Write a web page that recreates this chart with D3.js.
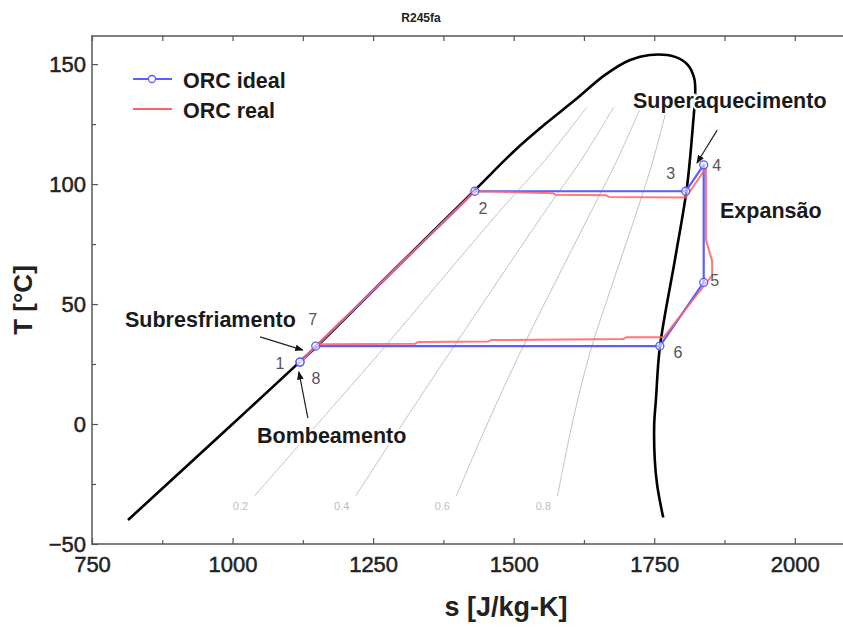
<!DOCTYPE html>
<html>
<head>
<meta charset="utf-8">
<script src="https://cdn.jsdelivr.net/npm/d3@7/dist/d3.min.js"></script>
<style>
  html, body { margin: 0; padding: 0; background: #fff; }
  svg { display: block; font-family: "Liberation Sans", Arial, sans-serif; }
</style>
</head>
<body>
<svg id="chart" width="843" height="627"></svg>
<script>
// ---------- DATA ----------
const title = "R245fa";
const xTicks = [750, 1000, 1250, 1500, 1750, 2000];
const xMinorTicks = [875, 1125, 1375, 1625, 1875];
const yTicks = [-50, 0, 50, 100, 150];
const yMinorTicks = [-25, 25, 75, 125];

// saturation dome (s [J/kg-K], T [°C])
const satLiquidS = [814, 1000, 1120, 1148, 1299, 1431, 1502, 1556, 1609, 1662, 1707, 1742];
const satLiquidT = [-40, 0, 26, 32, 67, 97.5, 114, 125, 135, 145.4, 151.7, 153.8];
const satVaporS = [1787, 1810, 1821, 1823, 1819, 1808, 1788, 1760, 1753, 1750, 1751, 1755, 1760, 1766];
const satVaporT = [153, 149.6, 144.2, 139.2, 125, 98.3, 70, 32, 10, 0, -15, -25, -32, -39];

// constant-quality lines
const qualityNames = ["0.2", "0.4", "0.6", "0.8"];
const qualityT = [-30, 0, 30, 60, 90, 110, 132];
const q02S = [1039, 1151, 1263, 1371, 1480, 1556, 1630];
const q04S = [1219, 1302, 1387, 1473, 1560, 1620, 1678];
const q06S = [1398, 1453, 1512, 1576, 1641, 1684, 1726];
const q08S = [1578, 1604, 1636, 1678, 1721, 1748, 1773];

// ORC ideal cycle: states 1..8 (8 coincides with 1)
const idealLabels = ["1", "2", "3", "4", "5", "6", "7", "8"];
const idealS = [1120, 1431, 1806, 1838, 1838, 1760, 1148, 1120];
const idealT = [25.8, 97, 97, 108, 59, 32.5, 32.5, 25.8];

// ORC real cycle
const realS = [1120, 1148, 1431, 1570, 1575, 1665, 1670, 1806, 1842, 1842, 1853, 1853, 1767, 1701, 1695, 1460, 1455, 1330, 1325, 1155, 1148, 1120];
const realT = [25.8, 32.5, 97, 96.2, 95.5, 95.3, 94.6, 94.4, 106.7, 76.7, 68, 62, 36.2, 36.2, 35.4, 35.0, 34.4, 34.2, 33.5, 33.2, 32.5, 25.8];

const seriesNames = ["ORC ideal", "ORC real"];

// ---------- STYLE / LAYOUT ----------
const colIdeal = "#5c5cff";
const colReal = "#ff6262";
const svg = d3.select("#chart");
const L = 92, R = 851, T0 = 36, B = 544;
const x = d3.scaleLinear().domain([750, 2100]).range([L, R]);
const y = d3.scaleLinear().domain([-50, 161.7]).range([B, T0]);

const zip = (a, b) => a.map((v, i) => [v, b[i]]);
const line = d3.line().x(d => x(d[0])).y(d => y(d[1]));
const smooth = d3.line().x(d => x(d[0])).y(d => y(d[1])).curve(d3.curveCatmullRom.alpha(0.5));

// title
svg.append("text").attr("x", 421).attr("y", 22).attr("text-anchor", "middle")
  .attr("font-size", 12).attr("font-weight", "bold").attr("fill", "#222").text(title);

// quality lines
const qS = [q02S, q04S, q06S, q08S];
const qg = svg.append("g");
qS.forEach((s, i) => {
  qg.append("path").attr("d", smooth(zip(s, qualityT))).attr("fill", "none")
    .attr("stroke", "#c4c4c4").attr("stroke-width", 1);
  qg.append("text").attr("x", x(s[0]) - 14).attr("y", y(qualityT[0]) + 14)
    .attr("text-anchor", "middle").attr("font-size", 11).attr("fill", "#bdbdbd").text(qualityNames[i]);
});

// dome
const dome = zip(satLiquidS, satLiquidT).concat(zip(satVaporS, satVaporT));
svg.append("path").attr("d", smooth(dome)).attr("fill", "none")
  .attr("stroke", "#000").attr("stroke-width", 2.6).attr("stroke-linejoin", "round");

// ideal
const idealPts = zip(idealS, idealT);
svg.append("path").attr("d", line(idealPts)).attr("fill", "none")
  .attr("stroke", colIdeal).attr("stroke-width", 2.2).attr("stroke-linejoin", "round");

// real
svg.append("path").attr("d", line(zip(realS, realT))).attr("fill", "none")
  .attr("stroke", colReal).attr("stroke-width", 2).attr("stroke-opacity", 0.85).attr("stroke-linejoin", "round");

// markers
svg.append("g").selectAll("circle").data(idealPts).join("circle")
  .attr("cx", d => x(d[0])).attr("cy", d => y(d[1])).attr("r", 4)
  .attr("fill", "#eeeeff").attr("fill-opacity", 0.6).attr("stroke", colIdeal).attr("stroke-width", 1.3);

// point labels
const labelOffsets = [[-20, 1], [8, 17], [-15, -18], [13, 0], [11, -2], [18, 6], [-3, -27], [16, 16]];
svg.append("g").selectAll("text").data(idealPts).join("text")
  .attr("x", (d, i) => x(d[0]) + labelOffsets[i][0])
  .attr("y", (d, i) => y(d[1]) + labelOffsets[i][1] + 6)
  .attr("text-anchor", "middle").attr("font-size", 16).attr("fill", "#555")
  .text((d, i) => idealLabels[i]);

// arrow marker
const defs = svg.append("defs");
defs.append("marker").attr("id", "ah").attr("viewBox", "0 0 10 10").attr("refX", 9).attr("refY", 5)
  .attr("markerWidth", 7).attr("markerHeight", 7).attr("orient", "auto-start-reverse")
  .append("path").attr("d", "M0,1 L10,5 L0,9 Z").attr("fill", "#111");

function arrow(s1, t1, s2, t2) {
  svg.append("line").attr("x1", x(s1)).attr("y1", y(t1)).attr("x2", x(s2)).attr("y2", y(t2))
    .attr("stroke", "#222").attr("stroke-width", 1.2).attr("marker-end", "url(#ah)");
}
arrow(1862, 122.5, 1826, 108.8);
arrow(1049, 36.3, 1125, 30.8);
arrow(1134, 2.5, 1118, 21.7);

// annotations
function note(px, py, txt) {
  svg.append("text").attr("x", px).attr("y", py).attr("font-size", 21.5).attr("font-weight", "bold")
    .attr("fill", "#1a1a1a").attr("stroke", "#fff").attr("stroke-width", 4).attr("paint-order", "stroke")
    .text(txt);
}
note(633, 108, "Superaquecimento");
note(720, 218, "Expansão");
note(125, 327, "Subresfriamento");
note(257, 443, "Bombeamento");

// legend
const lg = svg.append("g");
[[colIdeal, 79], [colReal, 109]].forEach(([c, ly], i) => {
  lg.append("line").attr("x1", 133).attr("x2", 172).attr("y1", ly).attr("y2", ly)
    .attr("stroke", c).attr("stroke-width", 2);
  if (i === 0) lg.append("circle").attr("cx", 152).attr("cy", ly).attr("r", 3.5)
    .attr("fill", "#fff").attr("stroke", c).attr("stroke-width", 1.3);
  lg.append("text").attr("x", 183).attr("y", ly + 9)
    .attr("font-size", 21.5).attr("font-weight", "bold").attr("fill", "#1a1a1a").text(seriesNames[i]);
});

// frame
svg.append("path").attr("d", `M${R},${T0}H${L}V${B}H${R}`).attr("fill", "none")
  .attr("stroke", "#808080").attr("stroke-width", 2);

// axes
function styleAxis(g) {
  g.select(".domain").remove();
  g.selectAll(".tick line").attr("stroke", "#555").attr("stroke-width", 1.2);
  g.selectAll(".tick text").attr("font-size", 22).attr("fill", "#222")
    .attr("font-family", "'Liberation Sans', Arial, sans-serif")
    .attr("stroke", "#222").attr("stroke-width", 0.5);
}
svg.append("g").attr("transform", `translate(0,${B})`)
  .call(d3.axisBottom(x).tickValues(xTicks).tickSizeInner(-6).tickSizeOuter(0).tickPadding(12).tickFormat(d3.format("d")))
  .call(styleAxis);
svg.append("g").attr("transform", `translate(0,${B})`)
  .call(d3.axisBottom(x).tickValues(xMinorTicks).tickSizeInner(-4).tickSizeOuter(0).tickFormat(""))
  .call(styleAxis);
svg.append("g").attr("transform", `translate(0,${T0})`)
  .call(d3.axisTop(x).tickValues(xTicks.concat(xMinorTicks)).tickSizeInner(-5).tickSizeOuter(0).tickFormat(""))
  .call(styleAxis);
svg.append("g").attr("transform", `translate(${L},0)`)
  .call(d3.axisLeft(y).tickValues(yTicks).tickSizeInner(-6).tickSizeOuter(0).tickPadding(6).tickFormat(d3.format("d")))
  .call(styleAxis);
svg.append("g").attr("transform", `translate(${L},0)`)
  .call(d3.axisLeft(y).tickValues(yMinorTicks).tickSizeInner(-4).tickSizeOuter(0).tickFormat(""))
  .call(styleAxis);

// axis titles
svg.append("text").attr("x", 506).attr("y", 616).attr("text-anchor", "middle")
  .attr("font-size", 27).attr("font-weight", "bold").attr("fill", "#222").text("s [J/kg-K]");
svg.append("text").attr("transform", "translate(32,300) rotate(-90)").attr("text-anchor", "middle")
  .attr("font-size", 26).attr("font-weight", "bold").attr("fill", "#222").text("T [°C]");
</script>
</body>
</html>
